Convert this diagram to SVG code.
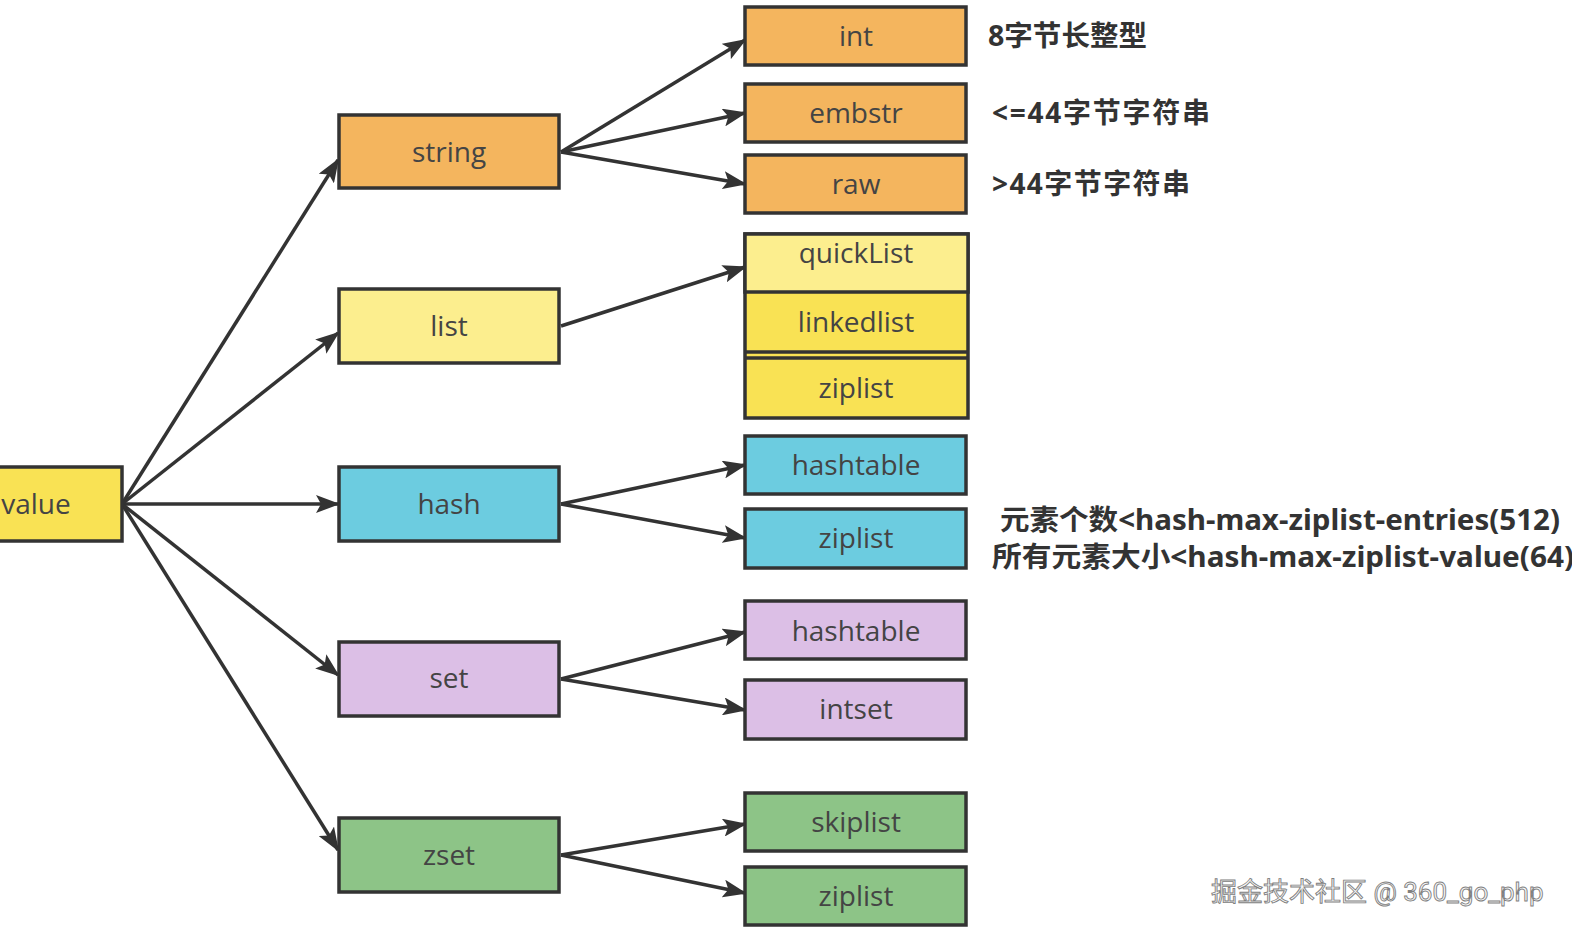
<svg xmlns="http://www.w3.org/2000/svg" width="1572" height="936" viewBox="0 0 1572 936">
<defs>
<marker id="ah" markerUnits="userSpaceOnUse" markerWidth="24" markerHeight="18" refX="22" refY="9" orient="auto">
<path d="M0,0 L24,9 L0,18 L5,9 Z" fill="#333"/>
</marker>
</defs>
<style>
.b{stroke:#333;stroke-width:3.5}
.or{fill:#F4B55E}
.ly{fill:#FCEE8E}
.yl{fill:#F9E254}
.bl{fill:#6CCCE0}
.pu{fill:#DCBFE6}
.gr{fill:#8DC487}
.t{font-family:"Open Sans","Noto Sans",sans-serif;font-size:28px;fill:#444;text-anchor:middle}
.n{font-family:"Noto Sans","Noto Sans CJK SC",sans-serif;font-weight:bold;font-size:28px;fill:#333}
.c{stroke:#333;stroke-width:3.5;fill:none;marker-end:url(#ah)}
</style>
<rect width="1572" height="936" fill="#fff"/>
<g id="connectors">
<line class="c" x1="122" y1="504" x2="338" y2="160"/>
<line class="c" x1="122" y1="504" x2="338" y2="333"/>
<line class="c" x1="122" y1="504" x2="338" y2="504"/>
<line class="c" x1="122" y1="504" x2="338" y2="675"/>
<line class="c" x1="122" y1="504" x2="338" y2="850"/>
<line class="c" x1="561" y1="152" x2="745" y2="40"/>
<line class="c" x1="561" y1="152" x2="745" y2="113"/>
<line class="c" x1="561" y1="152" x2="745" y2="184"/>
<line class="c" x1="561" y1="326" x2="745" y2="267"/>
<line class="c" x1="561" y1="504" x2="745" y2="465"/>
<line class="c" x1="561" y1="504" x2="745" y2="538"/>
<line class="c" x1="561" y1="679" x2="745" y2="632"/>
<line class="c" x1="561" y1="679" x2="745" y2="710"/>
<line class="c" x1="561" y1="855" x2="745" y2="824"/>
<line class="c" x1="561" y1="855" x2="745" y2="893"/>
</g>
<g id="value"><rect class="b yl" x="-5" y="467" width="127" height="74"/><text class="t" x="36" y="514">value</text></g>
<g id="string"><rect class="b or" x="339" y="115" width="220" height="73"/><text class="t" x="449" y="162">string</text></g>
<g id="list"><rect class="b ly" x="339" y="289" width="220" height="74"/><text class="t" x="449" y="336">list</text></g>
<g id="hash"><rect class="b bl" x="339" y="467" width="220" height="74"/><text class="t" x="449" y="514">hash</text></g>
<g id="set"><rect class="b pu" x="339" y="642" width="220" height="74"/><text class="t" x="449" y="688">set</text></g>
<g id="zset"><rect class="b gr" x="339" y="818" width="220" height="74"/><text class="t" x="449" y="865">zset</text></g>
<g id="int"><rect class="b or" x="745" y="7" width="221" height="58"/><text class="t" x="856" y="46">int</text></g>
<g id="embstr"><rect class="b or" x="745" y="84" width="221" height="58"/><text class="t" x="856" y="123">embstr</text></g>
<g id="raw"><rect class="b or" x="745" y="155" width="221" height="58"/><text class="t" x="856" y="194">raw</text></g>
<g id="list-encodings">
<rect class="b yl" x="745" y="234" width="223" height="184"/>
<rect class="b ly" x="745" y="234" width="223" height="58"/>
<line class="b" x1="745" y1="352" x2="968" y2="352"/>
<line class="b" x1="745" y1="358" x2="968" y2="358"/>
<text class="t" x="856" y="263">quickList</text>
<text class="t" x="856" y="332">linkedlist</text>
<text class="t" x="856" y="398">ziplist</text>
</g>
<g id="hash-hashtable"><rect class="b bl" x="745" y="436" width="221" height="58"/><text class="t" x="856" y="475">hashtable</text></g>
<g id="hash-ziplist"><rect class="b bl" x="745" y="509" width="221" height="59"/><text class="t" x="856" y="548">ziplist</text></g>
<g id="set-hashtable"><rect class="b pu" x="745" y="601" width="221" height="58"/><text class="t" x="856" y="641">hashtable</text></g>
<g id="intset"><rect class="b pu" x="745" y="680" width="221" height="59"/><text class="t" x="856" y="719">intset</text></g>
<g id="skiplist"><rect class="b gr" x="745" y="793" width="221" height="58"/><text class="t" x="856" y="832">skiplist</text></g>
<g id="zset-ziplist"><rect class="b gr" x="745" y="867" width="221" height="58"/><text class="t" x="856" y="906">ziplist</text></g>
<g id="notes">
<text class="n" x="988" y="46" textLength="159" lengthAdjust="spacingAndGlyphs">8字节长整型</text>
<text class="n" x="992" y="123" textLength="218" lengthAdjust="spacing">&lt;=44字节字符串</text>
<text class="n" x="992" y="194" textLength="198" lengthAdjust="spacing">&gt;44字节字符串</text>
<text class="n" x="1000" y="530" textLength="560" lengthAdjust="spacingAndGlyphs">元素个数&lt;hash-max-ziplist-entries(512)</text>
<text class="n" x="992" y="567" textLength="582" lengthAdjust="spacingAndGlyphs">所有元素大小&lt;hash-max-ziplist-value(64)</text>
</g>
<text x="1211" y="901" font-family="Roboto,'Noto Sans CJK SC',sans-serif" font-size="26" fill="#f8f8f8" stroke="#808080" stroke-width="0.9">掘金技术社区 @ 360_go_php</text>
</svg>
